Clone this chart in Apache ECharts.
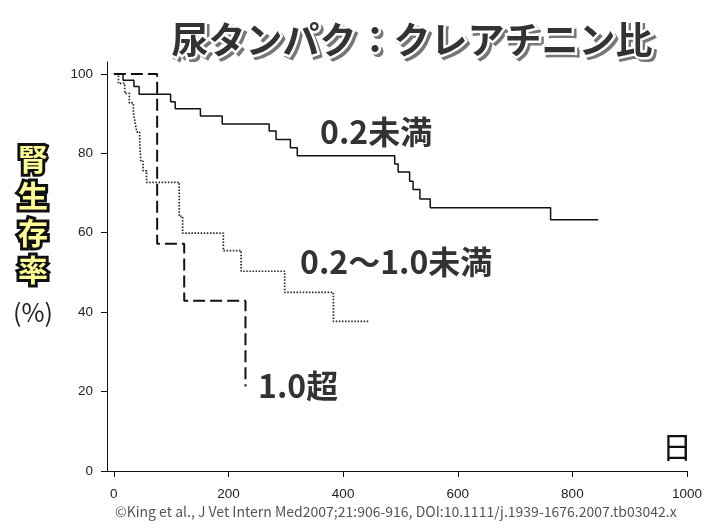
<!DOCTYPE html>
<html>
<head>
<meta charset="utf-8">
<script src="https://cdn.jsdelivr.net/npm/echarts@6/dist/echarts.min.js"></script>
<style>html,body{margin:0;padding:0;background:#fff;}#c{width:723px;height:531px;}</style>
</head>
<body>
<div id="c"></div>
<script>
// ---- data (days, % renal survival) ----
var lowDays   = [0, 16, 35, 44, 99, 107, 151, 189, 271, 283, 308, 320, 490, 496, 516, 522, 534, 552, 762, 845];
var lowSurv   = [100, 98.4, 96.8, 94.9, 93.0, 91.2, 89.4, 87.4, 85.6, 83.5, 81.4, 79.4, 77.3, 75.3, 73.0, 70.9, 68.5, 66.3, 63.3, 63.3];
var midDays   = [0, 8, 19, 27, 34, 37, 40, 45, 46, 47, 51, 57, 114, 120, 191, 222, 298, 383, 444];
var midSurv   = [100, 97.6, 95.1, 92.7, 90.2, 87.8, 85.4, 82.9, 80.5, 78.0, 75.6, 72.7, 64.1, 59.9, 55.5, 50.3, 45.0, 37.7, 37.7];
var highDays  = [0, 75.5, 122.7, 229.6];
var highSurv  = [100, 57.2, 42.9, 21.3];
var xTicks    = [0, 200, 400, 600, 800, 1000];
var yTicks    = [0, 20, 40, 60, 80, 100];
var titleText = '尿タンパク：クレアチニン比';
var seriesLabels = ['0.2未満', '0.2〜1.0未満', '1.0超'];
var yLabel    = '腎\n生\n存\n率';
var footnote  = '©King et al., J Vet Intern Med2007;21:906-916, DOI:10.1111/j.1939-1676.2007.tb03042.x';

function pairs(xs, ys){ return xs.map(function(x,i){ return [x, ys[i]]; }); }

var chart = echarts.init(document.getElementById('c'), null, {renderer:'canvas'});
var jp = '"Noto Sans CJK JP", sans-serif';
var lblFont = '"Liberation Sans", Arial, sans-serif';
var plain = function(v){ return String(v); };

chart.setOption({
  animation: false,
  backgroundColor: '#fff',
  grid: {left: 107, right: 36, top: 62, bottom: 60},
  xAxis: {
    type: 'value', min: -12, max: 1000,
    axisLine: {show: true, onZero: false, lineStyle: {color: '#111', width: 1}},
    axisTick: {show: true, inside: false, length: 6, customValues: xTicks, lineStyle: {color: '#111'}},
    axisLabel: {customValues: xTicks, formatter: plain, margin: 16, color: '#222', fontSize: 13.5, fontFamily: lblFont},
    splitLine: {show: false}
  },
  yAxis: {
    type: 'value', min: 0, max: 103,
    axisLine: {show: true, onZero: false, lineStyle: {color: '#111', width: 1}},
    axisTick: {show: true, inside: false, length: 6, customValues: yTicks, lineStyle: {color: '#111'}},
    axisLabel: {customValues: yTicks, formatter: plain, margin: 14, color: '#222', fontSize: 13.5, fontFamily: lblFont},
    splitLine: {show: false}
  },
  series: [
    {type: 'line', step: 'end', showSymbol: false, data: pairs(lowDays, lowSurv),
     lineStyle: {color: '#111', width: 1.5, type: 'solid'}},
    {type: 'line', step: 'end', showSymbol: false, data: pairs(midDays, midSurv),
     lineStyle: {color: '#222', width: 1.7, type: [1.5, 1.6]}},
    {type: 'line', step: 'end', showSymbol: false, data: pairs(highDays, highSurv),
     lineStyle: {color: '#111', width: 2, type: [12, 5]}}
  ],
  graphic: [
    // title shadow layer
    {type: 'text', x: 415, y: 43, z: 10, style: {
      text: titleText, font: 'bold 37px ' + jp, fill: '#777',
      stroke: '#777', lineWidth: 4, align: 'center', verticalAlign: 'middle'
    }},
    // title main
    {type: 'text', x: 412, y: 40, z: 11, style: {
      text: titleText, font: 'bold 37px ' + jp, fill: '#333',
      stroke: '#fff', lineWidth: 5, strokeFirst: true, align: 'center', verticalAlign: 'middle'
    }},
    {type: 'text', x: 33, y: 140, style: {
      text: yLabel, font: 'bold 30px ' + jp, fill: '#ffff99', stroke: '#111', lineWidth: 6,
      strokeFirst: true, align: 'center', verticalAlign: 'top', lineHeight: 37
    }},
    {type: 'text', x: 33, y: 312, style: {
      text: '(%)', font: '25px ' + jp, fill: '#222', align: 'center', verticalAlign: 'middle'
    }},
    {type: 'text', x: 320, y: 132, style: {
      text: seriesLabels[0], font: 'bold 32px ' + jp, fill: '#333', verticalAlign: 'middle'
    }},
    {type: 'text', x: 300, y: 262, style: {
      text: seriesLabels[1], font: 'bold 32px ' + jp, fill: '#333', verticalAlign: 'middle'
    }},
    {type: 'text', x: 258, y: 386, style: {
      text: seriesLabels[2], font: 'bold 32px ' + jp, fill: '#333', verticalAlign: 'middle'
    }},
    {type: 'text', x: 677, y: 447, style: {
      text: '日', font: '30px ' + jp, fill: '#111', align: 'center', verticalAlign: 'middle'
    }},
    {type: 'text', x: 115, y: 512, style: {
      text: footnote, font: '14px ' + jp, fill: '#555', verticalAlign: 'middle'
    }}
  ]
});
</script>
</body>
</html>
